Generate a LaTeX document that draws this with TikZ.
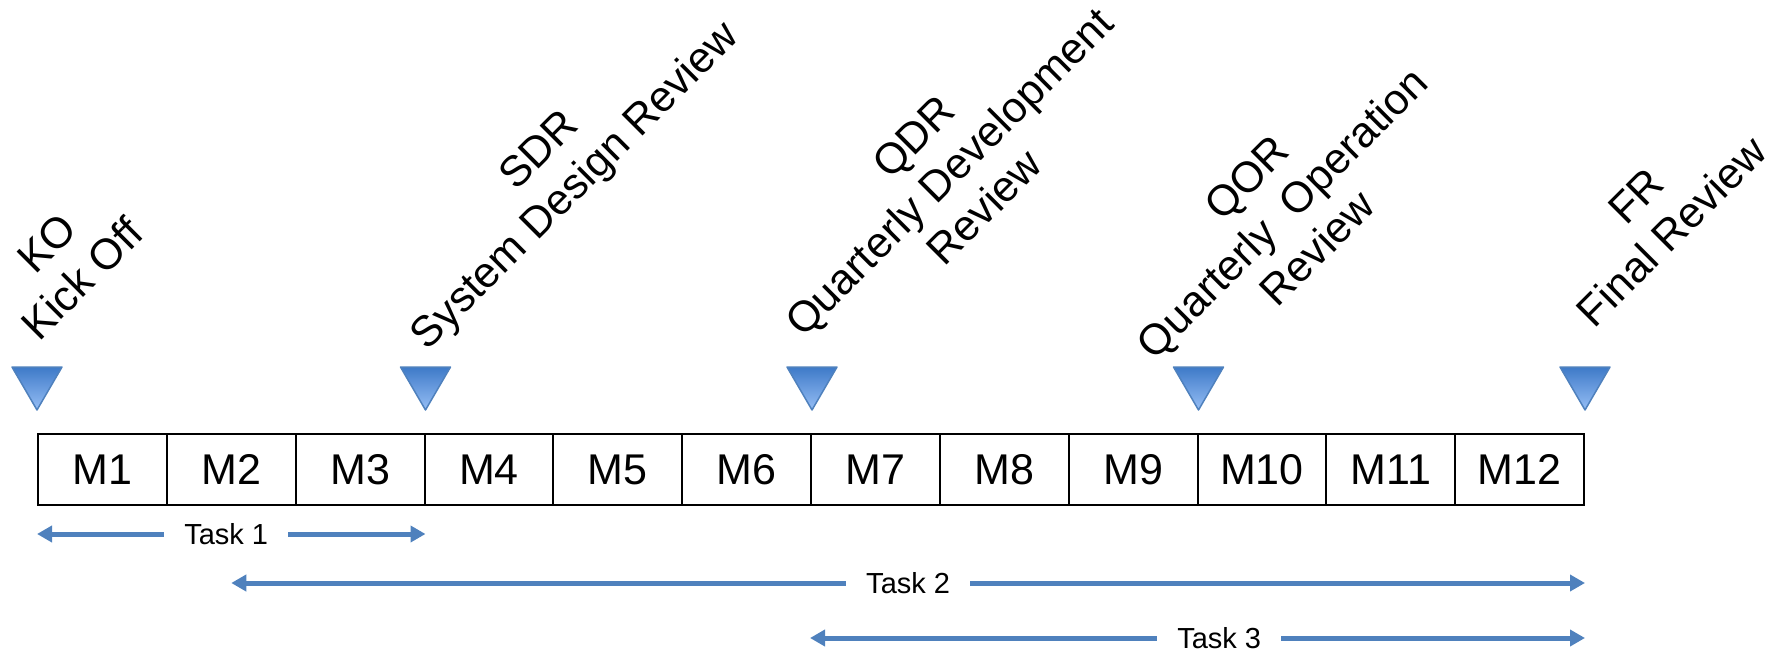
\documentclass[tikz,border=0pt]{standalone}
\usepackage{fontspec}
\setmainfont{Liberation Sans}
\usetikzlibrary{arrows.meta,calc}
\definecolor{taskblue}{RGB}{79,129,189}
\definecolor{mstop}{RGB}{62,122,200}
\definecolor{msbottom}{RGB}{150,190,245}
\definecolor{msedge}{RGB}{79,129,189}
\begin{document}
\begin{tikzpicture}[x=0.5pt,y=-0.5pt,
  month/.style={draw=black, line width=1pt, minimum width=64.4165pt, minimum height=35.5pt,
                inner sep=0pt, font=\fontsize{21.5}{25}\selectfont},
  mslabel/.style={rotate=45, align=center, inner sep=0pt, font=\fontsize{21.5}{25}\selectfont},
  marker/.style={draw=msedge, line width=0.75pt, line join=round, top color=mstop, bottom color=msbottom},
  taskarrow/.style={draw=taskblue, line width=2.5pt,
                    {Triangle[length=7.5pt,width=8pt]}-{Triangle[length=7.5pt,width=8pt]}},
  tasklabel/.style={fill=white, inner xsep=10pt, inner ysep=1pt, font=\fontsize{14.5}{17}\selectfont}]

\useasboundingbox (0,0) rectangle (1780,657);

% month cells
\foreach \i in {1,...,12}
  \node[month] (m\i) at ({38+(\i-0.5)*128.833},469.5) {M\i};

% milestone markers, tips 23 units above the cells
\coordinate (ko)  at ($(m1.north west)+(0,-23)$);
\coordinate (sdr) at ($(m3.north east)+(0,-23)$);
\coordinate (qdr) at ($(m6.north east)+(0,-23)$);
\coordinate (qor) at ($(m9.north east)+(0,-23)$);
\coordinate (fr)  at ($(m12.north east)+(0,-23)$);
\foreach \n in {ko,sdr,qdr,qor,fr}
  \path[marker] ($(\n)+(-25,-43)$) -- ($(\n)+(25,-43)$) -- (\n) -- cycle;

% milestone captions
\node[mslabel] (lko)  at (64.5,261) {KO\\Kick Off};
\node[mslabel] (lsdr) at (559,170)  {SDR\\System Design Review};
\node[mslabel] (lqdr) at (949,172)  {QDR\\Quarterly Development\\Review};
\node[mslabel] (lqor) at (1282,213) {QOR\\Quarterly\ \ Operation\\Review};
\node[mslabel] (lfr)  at (1654,214) {FR\\Final Review};

% task spans
\draw[taskarrow] (m1.south west |- 0,534) -- (m3.south east |- 0,534)
  node[tasklabel, pos=0.487] (task1) {Task 1};
\draw[taskarrow] (m2.south |- 0,583) -- (m12.south east |- 0,583)
  node[tasklabel, pos=0.5] (task2) {Task 2};
\draw[taskarrow] (m7.south west |- 0,638) -- (m12.south east |- 0,638)
  node[tasklabel, pos=0.528] (task3) {Task 3};
\end{tikzpicture}
\end{document}
